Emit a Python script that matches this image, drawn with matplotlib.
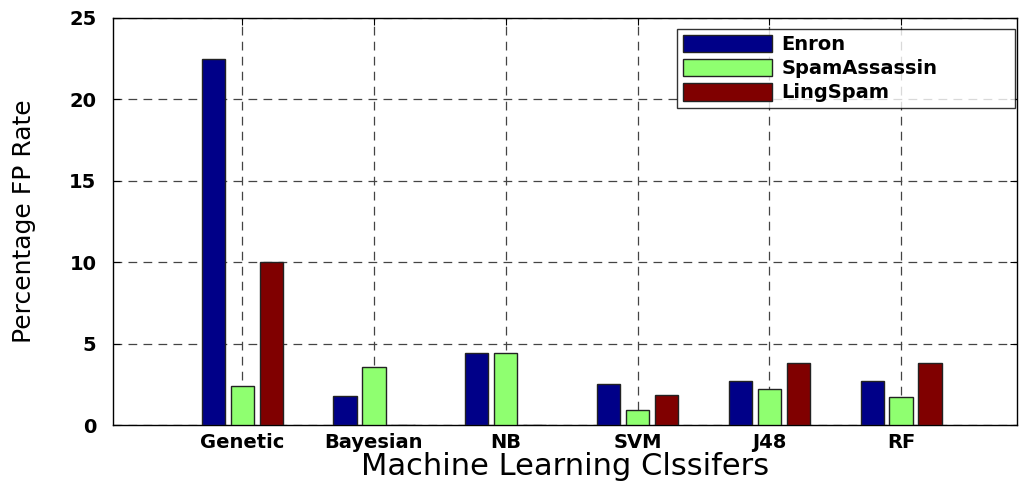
import numpy as np
import matplotlib
matplotlib.use("Agg")
import matplotlib.pyplot as plt

classifiers = ["Genetic", "Bayesian", "NB", "SVM", "J48", "RF"]
series_names = ["Enron", "SpamAssassin", "LingSpam"]
enron = [22.5, 1.8, 4.4, 2.55, 2.7, 2.7]
spam_assassin = [2.4, 3.55, 4.45, 0.95, 2.2, 1.7]
ling_spam = [10.0, 0.0, 0.0, 1.85, 3.8, 3.8]
yticks = [0, 5, 10, 15, 20, 25]

colors = ["#000088", "#8fff70", "#800000"]

fig = plt.figure(figsize=(10.19, 4.82), dpi=100)
ax = fig.add_axes([0.111, 0.118, 0.887, 0.845])

x = np.arange(1, len(classifiers) + 1)
width = 0.175
step = 0.22
for k, (name, vals) in enumerate(zip(series_names, [enron, spam_assassin, ling_spam])):
    ax.bar(x + (k - 1) * step, vals, width, color=colors[k], edgecolor="#222222",
           linewidth=1.0, label=name, zorder=3)

ax.set_xlim(0.02, 6.88)
ax.set_ylim(0, 25)
ax.set_xticks(x)
ax.set_xticklabels(classifiers, fontsize=14, fontweight="bold")
ax.set_yticks(yticks)
ax.set_yticklabels([str(v) for v in yticks], fontsize=14, fontweight="bold")
ax.tick_params(direction="in", length=5, top=True, right=True, colors="black")
ax.tick_params(axis="y", pad=12)
ax.tick_params(axis="x", pad=6)

ax.grid(True, color="#444444", linestyle=(0, (7, 5)), linewidth=0.9, zorder=0)
ax.set_axisbelow(True)
for s in ax.spines.values():
    s.set_linewidth(1.0)
    s.set_color("black")

ax.set_xlabel("Machine Learning Clssifers", fontsize=22, labelpad=0)
ax.set_ylabel("Percentage FP Rate", fontsize=18, labelpad=24)

leg = ax.legend(loc="upper left", bbox_to_anchor=(0.624, 0.781, 0.374, 0.192),
                mode="expand", fontsize=14, frameon=True, fancybox=False,
                handlelength=4.6, handleheight=1.0, borderpad=0.3,
                borderaxespad=0, labelspacing=0.25, handletextpad=0.45)
leg.get_frame().set_edgecolor("black")
leg.get_frame().set_linewidth(1.0)
for t in leg.get_texts():
    t.set_fontweight("bold")

fig.savefig("out.png", dpi=100)
